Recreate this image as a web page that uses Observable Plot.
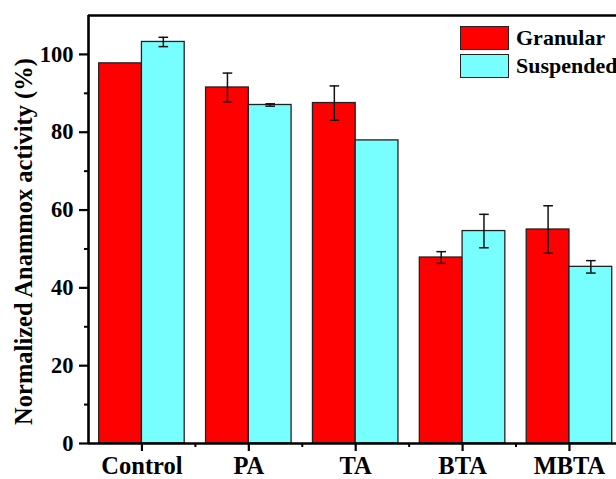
<!DOCTYPE html>
<html>
<head>
<meta charset="utf-8">
<script src="https://cdn.jsdelivr.net/npm/d3@7"></script>
<script src="https://cdn.jsdelivr.net/npm/@observablehq/plot@0.6"></script>
<style>
  html, body { margin: 0; padding: 0; background: #fff; overflow: hidden; }
  #wrap { position: relative; width: 616px; height: 479px; overflow: hidden; font-family: "Liberation Serif", "DejaVu Serif", serif; }
  .leg { position: absolute; left: 460px; display: flex; align-items: center; font-weight: bold; font-size: 22px; white-space: nowrap; }
  .sw { width: 47px; height: 22px; border: 1.5px solid #222; margin-right: 7px; }
</style>
</head>
<body>
<div id="wrap"></div>
<script>
const categories = ["Control", "PA", "TA", "BTA", "MBTA"];
const seriesNames = ["Granular", "Suspended"];
const seriesColors = ["#ff0000", "#77ffff"];
const granular = [97.7, 91.5, 87.5, 47.8, 55.0];
const granularErr = [0, 3.7, 4.4, 1.5, 6.1];
const suspended = [103.2, 87.0, 77.9, 54.6, 45.4];
const suspendedErr = [1.2, 0.3, 0, 4.3, 1.6];
const yTicks = [0, 20, 40, 60, 80, 100];
const yMinor = [10, 30, 50, 70, 90];

const barW = 0.4;
const rows = categories.flatMap((c, k) => [
  {pos: k + 1, cat: c, series: "Granular", v: granular[k], e: granularErr[k], side: -1},
  {pos: k + 1, cat: c, series: "Suspended", v: suspended[k], e: suspendedErr[k], side: 1}
]);
const errRows = rows.filter(d => d.e > 0);
const xc = d => d.pos + d.side * barW / 2;

const chart = Plot.plot({
  width: 616,
  height: 479,
  marginLeft: 88,
  marginRight: 0,
  marginTop: 15,
  marginBottom: 36,
  style: {fontFamily: "'Liberation Serif', 'DejaVu Serif', serif", background: "#fff"},
  x: {type: "linear", domain: [0.5, 5.44]},
  y: {domain: [0, 110]},
  color: {domain: seriesNames, range: seriesColors},
  marks: [
    Plot.rectY(rows, {
      x1: d => d.side < 0 ? d.pos - barW : d.pos,
      x2: d => d.side < 0 ? d.pos : d.pos + barW,
      y1: 0, y2: "v",
      fill: "series", stroke: "#222", strokeWidth: 1.3
    }),
    Plot.ruleX(errRows, {x: xc, y1: d => d.v - d.e, y2: d => d.v + d.e, stroke: "#111", strokeWidth: 1.5}),
    Plot.link(errRows, {x1: d => xc(d) - 0.045, x2: d => xc(d) + 0.045, y1: d => d.v + d.e, y2: d => d.v + d.e, stroke: "#111", strokeWidth: 1.5}),
    Plot.link(errRows, {x1: d => xc(d) - 0.045, x2: d => xc(d) + 0.045, y1: d => d.v - d.e, y2: d => d.v - d.e, stroke: "#111", strokeWidth: 1.5}),
    Plot.axisY({ticks: yTicks, tickSize: 9, tickPadding: 6, strokeWidth: 2.2, fontSize: 22.5, fontWeight: "bold", fill: "#000", label: null}),
    Plot.axisY({ticks: yMinor, tickSize: 4, strokeWidth: 2, text: null, label: null}),
    Plot.axisX({ticks: [1, 2, 3, 4, 5], tickFormat: t => categories[t - 1], tickSize: 8, tickPadding: 5, strokeWidth: 2.2, fontSize: 24.5, fontWeight: "bold", fill: "#000", label: null}),
    Plot.axisX({ticks: [1.5, 2.5, 3.5, 4.5], tickSize: 4, strokeWidth: 2, text: null, label: null}),
    Plot.ruleX([0.5], {stroke: "#000", strokeWidth: 2.6}),
    Plot.ruleY([0], {stroke: "#000", strokeWidth: 2.6}),
    Plot.ruleY([110], {stroke: "#000", strokeWidth: 2.6}),
    Plot.text(["Normalized Anammox activity (%)"], {frameAnchor: "left", textAnchor: "middle", rotate: -90, dx: -64, dy: 12, fontSize: 24.5, fontWeight: "bold", fill: "#000"})
  ]
});

const wrap = document.getElementById("wrap");
wrap.appendChild(chart);
seriesNames.forEach((name, k) => {
  const row = document.createElement("div");
  row.className = "leg";
  row.style.top = (25 + k * 28) + "px";
  const sw = document.createElement("div");
  sw.className = "sw";
  sw.style.background = seriesColors[k];
  const label = document.createElement("span");
  label.textContent = name;
  row.appendChild(sw);
  row.appendChild(label);
  wrap.appendChild(row);
});
</script>
</body>
</html>
